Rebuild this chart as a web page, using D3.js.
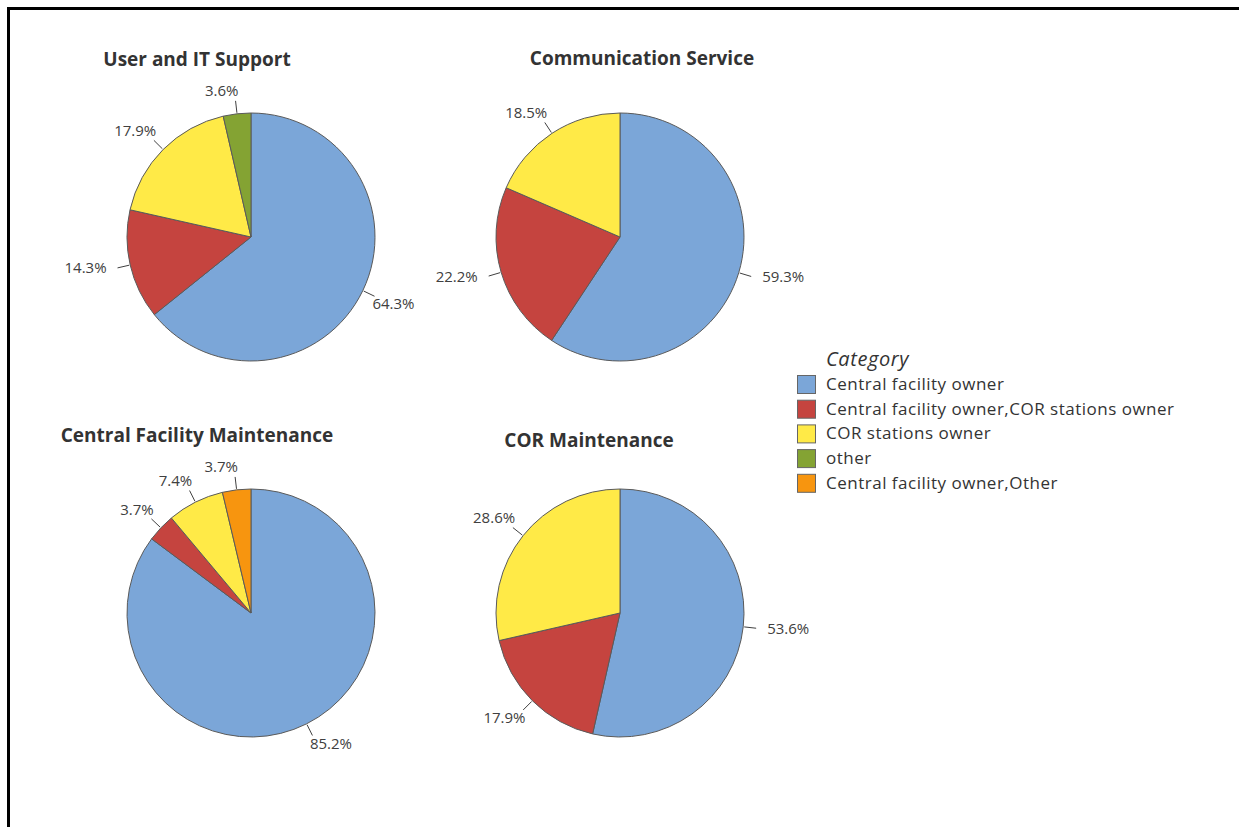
<!DOCTYPE html>
<html><head><meta charset="utf-8">
<script src="https://cdn.jsdelivr.net/npm/d3@7"></script>
<style>
body{margin:0;background:#fff;}
svg{display:block;font-family:"Open Sans","Noto Sans",sans-serif;}
</style></head>
<body><svg id="c" width="1239" height="827"></svg>
<script>
const categories = ["Central facility owner","Central facility owner,COR stations owner","COR stations owner","other","Central facility owner,Other"];
const colors = ["#7BA6D8","#C5443F","#FFEA47","#84A333","#F7950F"];
const panelTitles = ["User and IT Support","Communication Service","Central Facility Maintenance","COR Maintenance"];
// percentages per panel, in category order (0 = absent)
const userIT      = [64.3, 14.3, 17.9, 3.6, 0];
const commService = [59.3, 22.2, 18.5, 0, 0];
const centralMaint= [85.2, 3.7, 7.4, 0, 3.7];
const corMaint    = [53.6, 17.9, 28.6, 0, 0];
const panelValues = [userIT, commService, centralMaint, corMaint];

// layout
const colX = [251, 620], rowY = [237, 613], R = 124;
const titlePos = [[197,66],[642,65],[197,442],[589,447]];

const svg = d3.select("#c");
// frame
svg.append("line").attr("x1",8).attr("x2",1239).attr("y1",8.5).attr("y2",8.5).attr("stroke","#000").attr("stroke-width",3);
svg.append("line").attr("x1",8.5).attr("x2",8.5).attr("y1",7).attr("y2",827).attr("stroke","#000").attr("stroke-width",3);

const color = d3.scaleOrdinal().domain(categories).range(colors);
const pie = d3.pie().sort(null).value(d=>d.v);
const arc = d3.arc().innerRadius(0).outerRadius(R);

panelValues.forEach((vals,i)=>{
  const cx = colX[i%2], cy = rowY[Math.floor(i/2)];
  svg.append("text").attr("x",titlePos[i][0]).attr("y",titlePos[i][1])
    .attr("text-anchor","middle").attr("font-weight","bold").attr("font-size",19)
    .attr("fill","#333").text(panelTitles[i]);
  const data = categories.map((c,k)=>({c, v: vals[k]})).filter(d=>d.v>0);
  const g = svg.append("g").attr("transform",`translate(${cx},${cy})`);
  const arcs = pie(data);
  g.selectAll("path").data(arcs).join("path")
    .attr("d",arc).attr("fill",d=>color(d.data.c))
    .attr("stroke","#5a5a5a").attr("stroke-width",1);
  arcs.forEach(a=>{
    const m = (a.startAngle+a.endAngle)/2;
    const dx = Math.sin(m), dy = -Math.cos(m);
    g.append("line").attr("x1",dx*(R+1)).attr("y1",dy*(R+1))
      .attr("x2",dx*(R+13)).attr("y2",dy*(R+13)).attr("stroke","#404040").attr("stroke-width",1);
    const px = dx*(R+14), py = dy*(R+14);
    const sgn = dx>0.1?1:(dx<-0.1?-1:0);
    const anchor = sgn>0?"start":(sgn<0?"end":"middle");
    const horiz = Math.abs(dy) < 0.35;
    const tx = px + sgn*(horiz ? 10 : -3);
    const cyOff = horiz ? 0 : (dy>0 ? 7 : -9);
    const ty = py + cyOff + 5.3;
    g.append("text").attr("x",tx).attr("y",ty).attr("text-anchor",anchor)
      .attr("font-size",15).attr("fill","#404040").text(a.data.v.toFixed(1)+"%");
  });
});

// legend
const lg = svg.append("g").attr("transform","translate(797,0)");
lg.append("text").attr("x",29).attr("y",366).attr("font-size",20).attr("font-style","italic")
  .attr("letter-spacing",0.6).attr("fill","#333").text("Category");
categories.forEach((c,k)=>{
  const y = 375 + k*24.7;
  lg.append("rect").attr("x",0.5).attr("y",y+0.5).attr("width",18).attr("height",18)
    .attr("fill",color(c)).attr("stroke","#666").attr("stroke-width",1);
  lg.append("text").attr("x",29).attr("y",y+15).attr("font-size",17).attr("letter-spacing",0.5)
    .attr("fill","#333").text(c);
});
</script></body></html>
